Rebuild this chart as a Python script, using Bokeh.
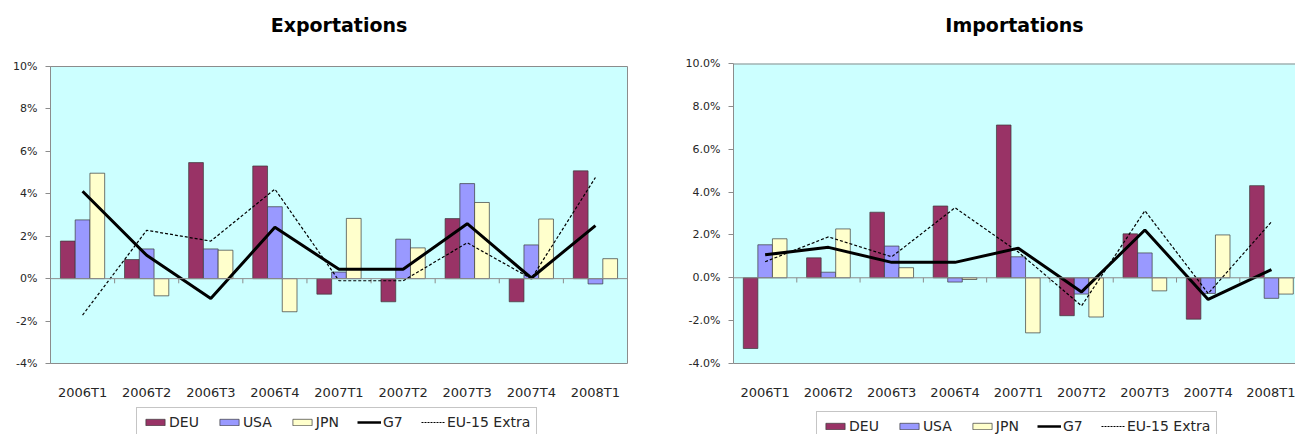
from bokeh.plotting import figure
from bokeh.models import Range1d, FixedTicker, Span, Legend, LegendItem, Label
from bokeh.layouts import row, column
from bokeh.embed import file_html
from bokeh.resources import INLINE

# ---------------- data ----------------
categories = ["2006T1", "2006T2", "2006T3", "2006T4", "2007T1",
              "2007T2", "2007T3", "2007T4", "2008T1"]

exp_deu = [1.77, 0.90, 5.47, 5.31, -0.73, -1.09, 2.83, -1.09, 5.08]
exp_usa = [2.77, 1.40, 1.40, 3.39, 0.31, 1.86, 4.48, 1.59, -0.25]
exp_jpn = [4.97, -0.81, 1.34, -1.56, 2.84, 1.45, 3.59, 2.81, 0.94]
exp_g7 = [4.12, 1.10, -0.94, 2.42, 0.44, 0.44, 2.59, 0.03, 2.50]
exp_eu = [-1.72, 2.28, 1.77, 4.22, -0.10, -0.10, 1.69, 0.00, 4.77]

imp_deu = [-3.30, 0.93, 3.06, 3.35, 7.13, -1.77, 2.05, -1.93, 4.30]
imp_usa = [1.54, 0.26, 1.48, -0.20, 0.98, -0.76, 1.16, -0.73, -0.96]
imp_jpn = [1.82, 2.28, 0.47, -0.08, -2.57, -1.83, -0.61, 2.00, -0.76]
imp_g7 = [1.07, 1.42, 0.72, 0.72, 1.38, -0.66, 2.23, -1.01, 0.38]
imp_eu = [0.75, 1.91, 0.98, 3.27, 1.20, -1.31, 3.13, -0.73, 2.61]

y_ticks = [-4, -2, 0, 2, 4, 6, 8, 10]
exp_tick_labels = ["-4%", "-2%", "0%", "2%", "4%", "6%", "8%", "10%"]
imp_tick_labels = ["-4.0%", "-2.0%", "0.0%", "2.0%", "4.0%", "6.0%", "8.0%", "10.0%"]

series_names = ["DEU", "USA", "JPN", "G7", "EU-15 Extra"]

# ---------------- style ----------------
FONT = "DejaVu Sans"
BAR_W = 0.23
C_DEU = "#993366"
C_USA = "#9999FF"
C_JPN = "#FFFFCC"
GRAY = "#8C8C8C"
TXT = "#262626"
BAR_LINE = "#3a3a3a"
NAN = float("nan")


def make_chart(deu, usa, jpn, g7, eu, tick_labels, width, height,
               b_left, b_right, b_top, b_bottom, x_end, outline):
    n = len(categories)
    centers = [i + 0.5 for i in range(n)]
    p = figure(width=width, height=height, title=None,
               x_range=Range1d(0, x_end), y_range=Range1d(-4, 10),
               output_backend="svg", toolbar_location=None,
               min_border_left=b_left, min_border_right=b_right,
               min_border_top=b_top, min_border_bottom=b_bottom)
    p.background_fill_color = "#CCFFFF"
    p.border_fill_color = "white"
    p.grid.visible = False
    if outline:
        p.outline_line_color = GRAY
    else:
        p.outline_line_color = None
        p.add_layout(Span(location=10, dimension="width", line_color=GRAY, line_width=2))

    # y axis
    p.yaxis.ticker = FixedTicker(ticks=y_ticks)
    p.yaxis.major_label_overrides = dict(zip(y_ticks, tick_labels))
    p.yaxis.major_tick_out = 5
    p.yaxis.major_tick_in = 0
    p.yaxis.minor_tick_line_color = None
    p.yaxis.axis_line_color = GRAY
    p.yaxis.major_tick_line_color = GRAY
    p.yaxis.major_label_text_font = FONT
    p.yaxis.major_label_text_font_size = "11px"
    p.yaxis.major_label_text_color = TXT
    p.yaxis.major_label_standoff = 8

    # x axis
    p.xaxis.ticker = FixedTicker(ticks=centers)
    p.xaxis.major_label_overrides = dict(zip(centers, categories))
    p.xaxis.major_tick_line_color = None
    p.xaxis.minor_tick_line_color = None
    p.xaxis.axis_line_color = None if outline else GRAY
    p.xaxis.major_label_text_font = FONT
    p.xaxis.major_label_text_font_size = "13px"
    p.xaxis.major_label_text_color = TXT
    p.xaxis.major_label_standoff = 15

    # bars
    p.vbar(x=[c - BAR_W for c in centers], top=deu, bottom=0, width=BAR_W,
           fill_color=C_DEU, line_color=BAR_LINE, line_width=0.7)
    p.vbar(x=centers, top=usa, bottom=0, width=BAR_W,
           fill_color=C_USA, line_color=BAR_LINE, line_width=0.7)
    p.vbar(x=[c + BAR_W for c in centers], top=jpn, bottom=0, width=BAR_W,
           fill_color=C_JPN, line_color=BAR_LINE, line_width=0.7)

    # category axis at zero with boundary ticks
    p.add_layout(Span(location=0, dimension="width", line_color=GRAY, line_width=1))
    bounds = list(range(1, n))
    p.segment(x0=bounds, y0=[0] * len(bounds), x1=bounds, y1=[-0.22] * len(bounds),
              line_color=GRAY, line_width=1)

    # lines
    p.line(centers, g7, line_color="black", line_width=3)
    p.line(centers, eu, line_color="black", line_width=1.2, line_dash="3 2")
    return p


def blank_fig(width, height, x_end):
    f = figure(width=width, height=height, title=None,
               x_range=Range1d(0, x_end), y_range=Range1d(0, height),
               output_backend="svg", toolbar_location=None,
               min_border_left=0, min_border_right=0, min_border_top=0, min_border_bottom=0)
    f.axis.visible = False
    f.grid.visible = False
    f.outline_line_color = None
    f.background_fill_color = "white"
    f.border_fill_color = "white"
    return f


def make_title(text, width, height, x_end, center_from_top):
    tf = blank_fig(width, height, x_end)
    tf.add_layout(Label(x=x_end / 2, y=height - center_from_top, text=text,
                        text_align="center", text_baseline="middle",
                        text_font=FONT, text_font_size="19px",
                        text_font_style="bold", text_color="black"))
    return tf


def make_legend(width, height, x_end, loc):
    lf = blank_fig(width, height, x_end)
    # swatches for the legend only: NaN rows are never drawn
    g_deu = lf.vbar(x=[NAN], top=[NAN], width=0.1, fill_color=C_DEU, line_color=BAR_LINE, line_width=0.7)
    g_usa = lf.vbar(x=[NAN], top=[NAN], width=0.1, fill_color=C_USA, line_color=BAR_LINE, line_width=0.7)
    g_jpn = lf.vbar(x=[NAN], top=[NAN], width=0.1, fill_color=C_JPN, line_color=BAR_LINE, line_width=0.7)
    g_g7 = lf.line(x=[NAN, NAN], y=[NAN, NAN], line_color="black", line_width=2.5)
    g_eu = lf.line(x=[NAN, NAN], y=[NAN, NAN], line_color="black", line_width=1.2, line_dash="2 1")
    legend = Legend(items=[LegendItem(label=series_names[0], renderers=[g_deu]),
                           LegendItem(label=series_names[1], renderers=[g_usa]),
                           LegendItem(label=series_names[2], renderers=[g_jpn]),
                           LegendItem(label=series_names[3], renderers=[g_g7]),
                           LegendItem(label=series_names[4], renderers=[g_eu])],
                    orientation="horizontal", location=loc,
                    glyph_width=24, glyph_height=8, label_standoff=2, spacing=18,
                    padding=6, margin=0, label_height=16,
                    border_line_color=GRAY, border_line_width=1,
                    background_fill_color="white", background_fill_alpha=1.0,
                    label_text_font=FONT, label_text_font_size="14px",
                    label_text_color=TXT)
    lf.add_layout(legend)
    return lf


W1, W2 = 670, 625
X1, X2 = 9, 8.88
TITLE_H = 50
LEG_H = 32
MAIN_H = 434 - TITLE_H - LEG_H

t1 = make_title("Exportations", W1, TITLE_H, X1, 24)
p1 = make_chart(exp_deu, exp_usa, exp_jpn, exp_g7, exp_eu, exp_tick_labels,
                width=W1, height=MAIN_H, b_left=50, b_right=43, b_top=16,
                b_bottom=MAIN_H - 16 - 299, x_end=X1, outline=True)
l1 = make_legend(W1, LEG_H, X1, (86, -3))

t2 = make_title("Importations", W2, TITLE_H, X2, 24)
p2 = make_chart(imp_deu, imp_usa, imp_jpn, imp_g7, imp_eu, imp_tick_labels,
                width=W2, height=MAIN_H, b_left=63, b_right=0, b_top=13,
                b_bottom=MAIN_H - 13 - 305, x_end=X2, outline=False)
l2 = make_legend(W2, LEG_H, X2, (83, -7))

layout = row(column(t1, p1, l1), column(t2, p2, l2))
open("out.html", "w").write(file_html(layout, INLINE))
